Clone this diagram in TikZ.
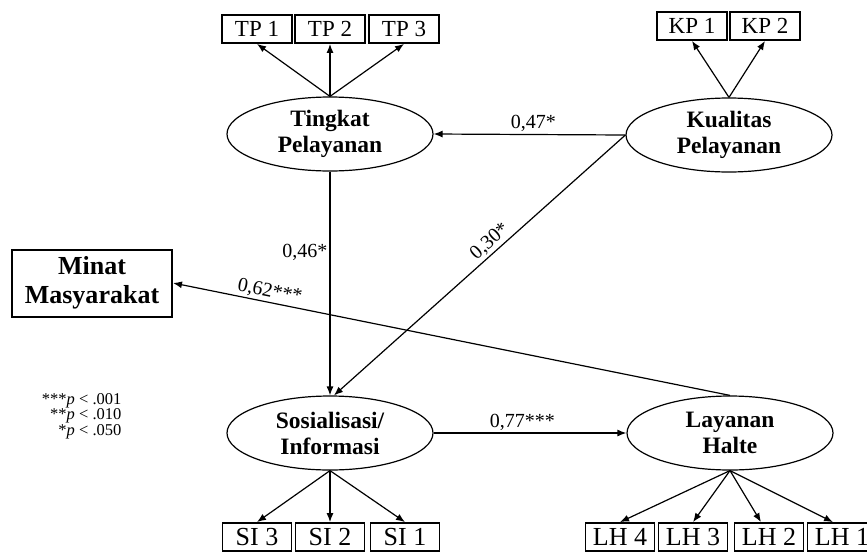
\documentclass[tikz,border=0pt]{standalone}
\usepackage{fontspec}
\setmainfont{Liberation Serif}
\usetikzlibrary{%
  arrows.meta,%
  shapes,% wg. ellipse
  positioning%
}

\begin{document}
\begin{tikzpicture}[
  x=1pt, y=-1pt, >={Latex[length=9pt,width=7pt]}, line width=1.2pt,
  indicator/.style={rectangle, minimum height=28pt, minimum width=70pt, inner sep=0pt, draw=black, line width=1.8pt, font=\fontsize{23}{23}\selectfont},
  indicatorbig/.style={indicator, minimum width=69pt, font=\fontsize{26}{26}\selectfont},
  construct/.style={ellipse, minimum height=74pt, minimum width=206pt, inner sep=0pt, draw=black, align=center, font=\fontsize{23.5}{26}\selectfont\bfseries},
  observed/.style={rectangle, minimum height=67pt, minimum width=160pt, draw=black, line width=2pt, align=center, font=\fontsize{26}{29}\selectfont\bfseries},
  coef/.style={font=\fontsize{20}{20}\selectfont, inner sep=2pt}
]
\useasboundingbox (0,0) rectangle (867,552);

\node[construct] (tingkat) at (330,134) {Tingkat\\Pelayanan};
\node[construct] (kualitas) at (729,135) {Kualitas\\Pelayanan};
\node[construct] (sosial) at (330,433) {Sosialisasi/\\Informasi};
\node[construct] (layanan) at (730,433) {Layanan\\Halte};
\node[observed] (minat) at (92,283) {Minat\\Masyarakat};

\node[indicator] (tp1) at (257,29) {TP 1};
\node[indicator] (tp2) at (330,29) {TP 2};
\node[indicator] (tp3) at (404,29) {TP 3};
\node[indicator] (kp1) at (692,26) {KP 1};
\node[indicator] (kp2) at (765,26) {KP 2};

\node[indicatorbig] (si3) at (257,537) {SI 3};
\node[indicatorbig] (si2) at (330,537) {SI 2};
\node[indicatorbig] (si1) at (405,537) {SI 1};
\node[indicatorbig] (lh4) at (620,537) {LH 4};
\node[indicatorbig] (lh3) at (693,537) {LH 3};
\node[indicatorbig] (lh2) at (769,537) {LH 2};
\node[indicatorbig] (lh1) at (842,537) {LH 1};

\node[anchor=east, align=right, inner sep=0pt, font=\fontsize{16.5}{12}\selectfont] (legend) at (122,416)
  {***\textit{p} < .001\\**\textit{p} < .010\\*\textit{p} < .050};

% indicators
\path (tingkat.north) edge[->] (tp1.south) edge[->] (tp2.south) edge[->] (tp3.south);
\path (kualitas.north) edge[->] (kp1.south) edge[->] (kp2.south);
\path (sosial.south) edge[->] (si3.north) edge[->] (si2.north) edge[->] (si1.north);
\path (layanan.south) edge[->] (lh4.north) edge[->] (lh3.north)
  edge[->] ([xshift=-8pt]lh2.north) edge[->] ([xshift=-9pt]lh1.north);

% paths
\path (kualitas.west) edge[->] node[coef, above, pos=0.48] {0,47*} (tingkat.east);
\path (kualitas.west) edge[->] node[coef, sloped, above, pos=0.44] {0,30*} (sosial.84);
\path (tingkat.south) edge[->] node[coef, left, pos=0.36] {0,46*} (sosial.north);
\path (sosial.east) edge[->] node[coef, above, pos=0.46] {0,77***} (layanan.west);
\path (layanan.north) edge[->] node[coef, sloped, above, pos=0.83] {0,62***} (minat.east);
\end{tikzpicture}
\end{document}
